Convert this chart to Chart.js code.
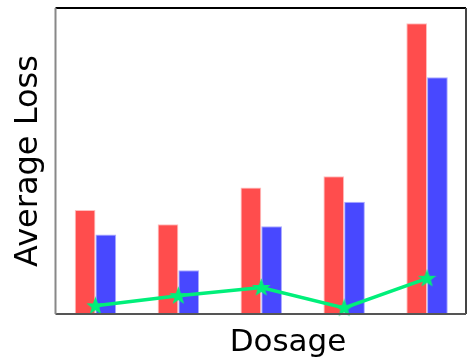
<!DOCTYPE html>
<html>
<head>
<meta charset="utf-8">
<script src="https://cdn.jsdelivr.net/npm/chart.js@4.4.1/dist/chart.umd.min.js"></script>
<style>
  html, body { margin: 0; padding: 0; background: #fff; }
  #wrap { width: 475px; height: 363px; }
</style>
</head>
<body>
<div id="wrap"><canvas id="lossChart" width="475" height="363"></canvas></div>
<script>
// values
const dosages = ['d1', 'd2', 'd3', 'd4', 'd5'];
const redLoss = [1.02, 0.88, 1.24, 1.35, 2.85];
const blueLoss = [0.78, 0.43, 0.86, 1.10, 2.32];
const greenLoss = [0.08, 0.18, 0.26, 0.06, 0.35];
const yMin = 0;
const yMax = 3;

// filled star marker, like matplotlib's '*'
function makeStar(size, color) {
    const c = document.createElement('canvas');
    c.width = size;
    c.height = size;
    const g = c.getContext('2d');
    const cx = size / 2, cy = size / 2 + 0.5;
    const outer = size / 2 - 1.5, inner = outer * 0.42;
    g.beginPath();
    for (let i = 0; i < 10; i++) {
        const r = i % 2 === 0 ? outer : inner;
        const a = -Math.PI / 2 + i * Math.PI / 5;
        const px = cx + r * Math.cos(a), py = cy + r * Math.sin(a);
        if (i === 0) g.moveTo(px, py); else g.lineTo(px, py);
    }
    g.closePath();
    g.fillStyle = color;
    g.fill();
    g.lineWidth = 1.2;
    g.strokeStyle = color;
    g.stroke();
    return c;
}

const green = '#00ef7a';
const star = makeStar(19, green);

// frame around the plot area (inset a bit, the bars sit on a slightly wider grid)
const framePlugin = {
    id: 'frame',
    afterDraw(chart) {
        const { ctx, chartArea: a } = chart;
        const l = a.left + 1.5, r = a.right - 2.5;
        ctx.save();
        ctx.lineWidth = 2;
        ctx.strokeStyle = '#000';
        ctx.beginPath(); ctx.moveTo(l, a.top); ctx.lineTo(r, a.top); ctx.stroke();
        ctx.strokeStyle = '#444';
        ctx.beginPath(); ctx.moveTo(r, a.top); ctx.lineTo(r, a.bottom); ctx.stroke();
        ctx.strokeStyle = '#555';
        ctx.beginPath(); ctx.moveTo(l, a.bottom); ctx.lineTo(r, a.bottom); ctx.stroke();
        ctx.strokeStyle = '#888';
        ctx.beginPath(); ctx.moveTo(l, a.top); ctx.lineTo(l, a.bottom); ctx.stroke();

        // x label sits right of the plot centre in the original
        ctx.fillStyle = '#000';
        ctx.font = '31px "DejaVu Sans"';
        ctx.textAlign = 'center';
        ctx.textBaseline = 'alphabetic';
        ctx.fillText('Dosage', 288, 351);
        ctx.restore();
    }
};

new Chart(document.getElementById('lossChart').getContext('2d'), {
    data: {
        labels: dosages,
        datasets: [
            {
                type: 'line',
                data: greenLoss,
                borderColor: green,
                borderWidth: 3.5,
                pointStyle: star,
                pointRadius: 8,
                fill: false,
                tension: 0,
                clip: false,
                order: 0
            },
            {
                type: 'bar',
                data: redLoss,
                backgroundColor: 'rgb(255, 77, 77)',
                borderColor: 'rgb(255, 190, 190)',
                borderWidth: 1,
                categoryPercentage: 0.5,
                barPercentage: 1.0,
                order: 1
            },
            {
                type: 'bar',
                data: blueLoss,
                backgroundColor: 'rgb(72, 72, 255)',
                borderColor: 'rgb(170, 170, 255)',
                borderWidth: 1,
                categoryPercentage: 0.5,
                barPercentage: 1.0,
                order: 1
            }
        ]
    },
    options: {
        responsive: false,
        animation: false,
        events: [],
        layout: { autoPadding: false, padding: { top: 8, right: 6.5, left: 0, bottom: 0 } },
        plugins: {
            legend: { display: false },
            tooltip: { enabled: false }
        },
        scales: {
            x: {
                grid: { display: false },
                border: { display: false },
                ticks: { display: false },
                afterFit(scale) { scale.height = 49; }
            },
            y: {
                min: yMin,
                max: yMax,
                grid: { display: false },
                border: { display: false },
                ticks: { display: false },
                title: {
                    display: true,
                    text: 'Average Loss',
                    color: '#000',
                    font: { family: 'DejaVu Sans', size: 32 },
                    padding: { top: 9, bottom: 0 }
                },
                afterFit(scale) { scale.width = 54; }
            }
        }
    },
    plugins: [framePlugin]
});
</script>
</body>
</html>
